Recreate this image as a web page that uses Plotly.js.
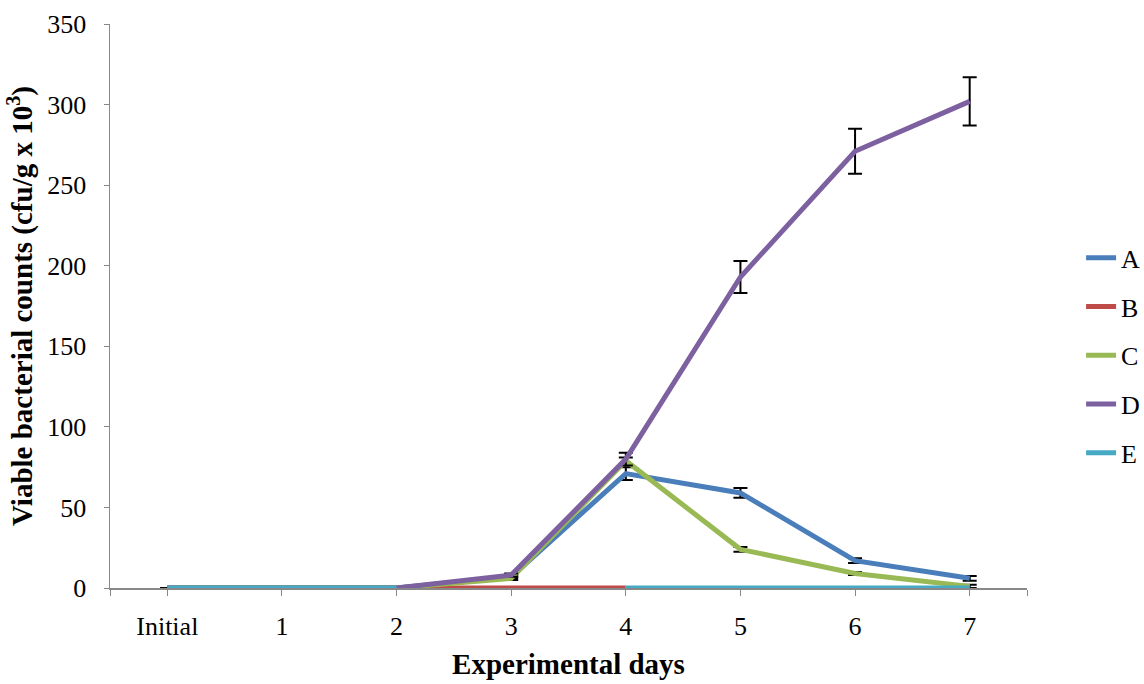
<!DOCTYPE html>
<html>
<head>
<meta charset="utf-8">
<script src="https://cdn.plot.ly/plotly-3.0.1.min.js"></script>
<style>
  html, body { margin: 0; padding: 0; background: #fff; }
  #chart { width: 1144px; height: 684px; }
</style>
</head>
<body>
<div id="chart"></div>
<script>
// Sampling days
const days = ["Initial", "1", "2", "3", "4", "5", "6", "7"];

// Viable counts (cfu/g x 10^3) per treatment
const seriesA = [0, 0, 0, 7, 71, 59, 17, 6];
const seriesB = [0, 0, 0, 0, 0, null, null, null];
const seriesC = [0, 0, 0, 6, 79, 24, 9, 1];
const seriesD = [0, 0, 0, 8, 80, 193, 271, 302];
const seriesE = [0, 0, 0, null, 0, 0, 0, 0];

// Standard deviations
const errA = [0, 0, 0, 1, 4, 3, 1.5, 1.5];
const errB = [0, 0, 0, 0, 0, 0, 0, 0];
const errC = [0, 0, 0, 1, 2, 1.5, 1, 1];
const errD = [0, 0, 0, 1, 4, 10, 14, 15];
const errE = [0, 0, 0, 0, 0, 0, 0, 0];

const names = ["A", "B", "C", "D", "E"];
const colors = ["#4a7ebb", "#be4b48", "#98b954", "#7d60a0", "#46aac5"];
const values = [seriesA, seriesB, seriesC, seriesD, seriesE];
const errors = [errA, errB, errC, errD, errE];

const xIdx = days.map((d, i) => i);

const traces = names.map((n, k) => ({
  type: "scatter",
  mode: "lines",
  name: n,
  legendgroup: n,
  x: xIdx,
  y: values[k],
  connectgaps: false,
  line: { color: colors[k], width: 5 },
  error_y: {
    type: "data",
    array: errors[k],
    visible: errors[k].some(v => v > 0),
    color: "#000",
    thickness: 2,
    width: 7
  },
  hoverinfo: "x+y+name"
}));

const serif = "'Liberation Serif', 'Times New Roman', serif";

// category ticks plus the two axis-end marks
const xTickVals = [-0.5].concat(xIdx, [7.5]);
const xTickText = [""].concat(days, [""]);

const layout = {
  width: 1144,
  height: 684,
  margin: { l: 110, r: 117, t: 24, b: 96 },
  paper_bgcolor: "#fff",
  plot_bgcolor: "#fff",
  font: { family: serif, size: 26, color: "#000" },
  showlegend: true,
  legend: {
    xref: "container", yref: "container",
    x: 0.945, xanchor: "left",
    y: 0.6575, yanchor: "top",
    traceorder: "grouped",
    tracegroupgap: 12,
    font: { family: serif, size: 26, color: "#000" },
    bgcolor: "rgba(0,0,0,0)"
  },
  xaxis: {
    range: [-0.5, 7.5],
    tickmode: "array",
    tickvals: xTickVals,
    ticktext: xTickText,
    showgrid: false,
    zeroline: false,
    showline: true,
    linecolor: "#888",
    linewidth: 1.5,
    ticks: "outside",
    ticklen: 6,
    tickcolor: "#888",
    ticklabelstandoff: 8,
    tickfont: { family: serif, size: 26, color: "#000" },
    title: {
      text: "<b>Experimental days</b>",
      font: { family: serif, size: 29, color: "#000" },
      standoff: 14
    }
  },
  yaxis: {
    range: [0, 350],
    tickmode: "array",
    tickvals: [0, 50, 100, 150, 200, 250, 300, 350],
    showgrid: false,
    zeroline: false,
    showline: true,
    linecolor: "#888",
    linewidth: 1.5,
    ticks: "outside",
    ticklen: 5,
    tickcolor: "#888",
    ticklabelstandoff: 12,
    tickfont: { family: serif, size: 26, color: "#000" },
    title: {
      text: "<b>Viable bacterial counts (cfu/g x 10<sup>3</sup>)</b>",
      font: { family: serif, size: 29, color: "#000" },
      standoff: 6
    }
  }
};

Plotly.newPlot("chart", traces, layout, { displayModeBar: false, staticPlot: true });
</script>
</body>
</html>
